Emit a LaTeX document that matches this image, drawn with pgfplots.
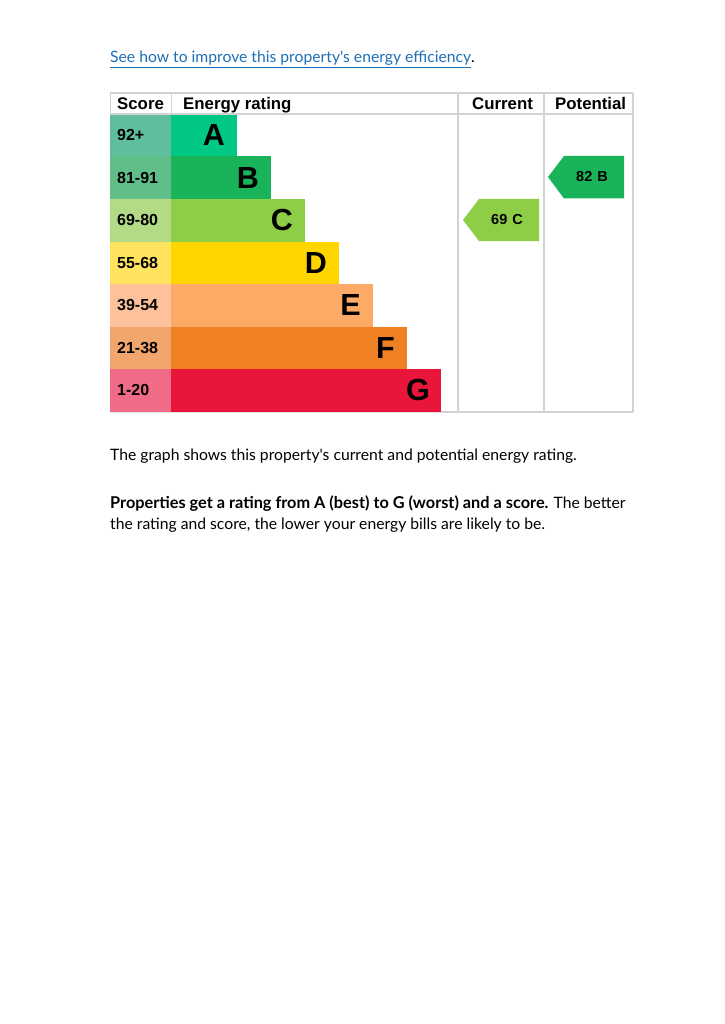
\documentclass[border=0pt]{standalone}
\usepackage{pgfplots}
\pgfplotsset{compat=1.18}
\usepackage{fontspec}
\setmainfont{Liberation Sans}
\newfontfamily\gds{Lato}
\definecolor{linkblue}{HTML}{1D70B8}
\definecolor{gridgrey}{HTML}{D2D2D2}
\definecolor{barA}{HTML}{00C781}
\definecolor{barB}{HTML}{19B459}
\definecolor{barC}{HTML}{8DCE46}
\definecolor{barD}{HTML}{FFD500}
\definecolor{barE}{HTML}{FCAA65}
\definecolor{barF}{HTML}{EF8023}
\definecolor{barG}{HTML}{E9153B}
\definecolor{scA}{HTML}{5FBF9C}
\definecolor{scB}{HTML}{60BF88}
\definecolor{scC}{HTML}{B3DA85}
\definecolor{scD}{HTML}{FFE25E}
\definecolor{scE}{HTML}{FDC29B}
\definecolor{scF}{HTML}{F2A66C}
\definecolor{scG}{HTML}{EF6B86}
\tikzset{sc/.style={anchor=west, inner sep=0pt, font=\bfseries\fontsize{16}{18}\selectfont},
  band/.style={anchor=east, inner sep=0pt, font=\bfseries\fontsize{30.5}{32}\selectfont},
  hd/.style={anchor=base west, inner sep=0pt, font=\bfseries\fontsize{16.8}{18}\selectfont},
  body/.style={anchor=base west, inner sep=0pt, font=\gds\fontsize{15.7}{18}\selectfont}}
\begin{document}
\begin{tikzpicture}
\begin{axis}[
  width=724pt, height=1024pt, scale only axis,
  xmin=0, xmax=724, ymin=0, ymax=1024, y dir=reverse,
  hide axis, clip=false]
% page background
\addplot[draw=none, fill=white] coordinates {(0,0) (724,0) (724,1024) (0,1024)} -- cycle;
% score cells
\addplot[draw=none, fill=scA] coordinates {(110,114) (171,114) (171,156.5) (110,156.5)} -- cycle;
\addplot[draw=none, fill=scB] coordinates {(110,156.5) (171,156.5) (171,199) (110,199)} -- cycle;
\addplot[draw=none, fill=scC] coordinates {(110,199) (171,199) (171,241.5) (110,241.5)} -- cycle;
\addplot[draw=none, fill=scD] coordinates {(110,241.5) (171,241.5) (171,284) (110,284)} -- cycle;
\addplot[draw=none, fill=scE] coordinates {(110,284) (171,284) (171,326.5) (110,326.5)} -- cycle;
\addplot[draw=none, fill=scF] coordinates {(110,326.5) (171,326.5) (171,369) (110,369)} -- cycle;
\addplot[draw=none, fill=scG] coordinates {(110,369) (171,369) (171,411.5) (110,411.5)} -- cycle;
% rating bars
\addplot[draw=none, fill=barA] coordinates {(171,114) (237,114) (237,156.5) (171,156.5)} -- cycle;
\addplot[draw=none, fill=barB] coordinates {(171,156.5) (271,156.5) (271,199) (171,199)} -- cycle;
\addplot[draw=none, fill=barC] coordinates {(171,199) (305,199) (305,241.5) (171,241.5)} -- cycle;
\addplot[draw=none, fill=barD] coordinates {(171,241.5) (339,241.5) (339,284) (171,284)} -- cycle;
\addplot[draw=none, fill=barE] coordinates {(171,284) (373,284) (373,326.5) (171,326.5)} -- cycle;
\addplot[draw=none, fill=barF] coordinates {(171,326.5) (407,326.5) (407,369) (171,369)} -- cycle;
\addplot[draw=none, fill=barG] coordinates {(171,369) (441,369) (441,411.5) (171,411.5)} -- cycle;
% table lines
\draw[gridgrey, line width=1.2pt] (axis cs:110,93) -- (axis cs:633,93);
\draw[gridgrey, line width=1.2pt] (axis cs:110,114) -- (axis cs:633,114);
\draw[gridgrey!60, line width=0.8pt] (axis cs:110,412) -- (axis cs:441,412);
\draw[gridgrey, line width=1.2pt] (axis cs:441,412) -- (axis cs:633,412);
\draw[gridgrey, line width=1pt] (axis cs:110,93) -- (axis cs:110,114);
\draw[gridgrey, line width=1pt] (axis cs:171,93) -- (axis cs:171,114);
\draw[gridgrey, line width=1.2pt] (axis cs:458,93) -- (axis cs:458,412);
\draw[gridgrey, line width=1.2pt] (axis cs:544,93) -- (axis cs:544,412);
\draw[gridgrey, line width=1.2pt] (axis cs:633,93) -- (axis cs:633,412);
% current and potential arrows
\addplot[draw=none, fill=barC] coordinates {(463,220) (479,199) (539,199) (539,241) (479,241)} -- cycle;
\addplot[draw=none, fill=barB] coordinates {(548,177) (564,156) (624,156) (624,198.5) (564,198.5)} -- cycle;
\node[font=\bfseries\fontsize{14.5}{15}\selectfont] at (axis cs:507,220) {69\hspace{5pt}C};
\node[font=\bfseries\fontsize{14.5}{15}\selectfont] at (axis cs:592,177) {82\hspace{5pt}B};
% headers
\node[hd] at (axis cs:117,109.5) {Score};
\node[hd] at (axis cs:183,109.5) {Energy rating};
\node[hd] at (axis cs:472,109.5) {Current};
\node[hd] at (axis cs:555,109.5) {Potential};
% score labels
\node[sc] at (axis cs:117,135.25) {92+};
\node[sc] at (axis cs:117,177.75) {81-91};
\node[sc] at (axis cs:117,220.25) {69-80};
\node[sc] at (axis cs:117,262.75) {55-68};
\node[sc] at (axis cs:117,305.25) {39-54};
\node[sc] at (axis cs:117,347.75) {21-38};
\node[sc] at (axis cs:117,390.25) {1-20};
% band letters
\node[band] at (axis cs:225,135.25) {A};
\node[band] at (axis cs:259,177.75) {B};
\node[band] at (axis cs:293,220.25) {C};
\node[band] at (axis cs:327,262.75) {D};
\node[band] at (axis cs:361,305.25) {E};
\node[band] at (axis cs:395,347.75) {F};
\node[band] at (axis cs:430,390.25) {G};
% texts
\node[body, text=linkblue] at (axis cs:110,62.5) {\underline{See how to improve this property's energy efficiency}\textcolor{black}{.}};
\node[body] at (axis cs:110,460) {The graph shows this property's current and potential energy rating.};
\node[body] at (axis cs:110,508.5) {{\bfseries\fontsize{16.3}{18}\selectfont Properties get a rating from A (best) to G (worst) and a score.} The better};
\node[body] at (axis cs:110,529) {the rating and score, the lower your energy bills are likely to be.};
\end{axis}
\end{tikzpicture}
\end{document}
